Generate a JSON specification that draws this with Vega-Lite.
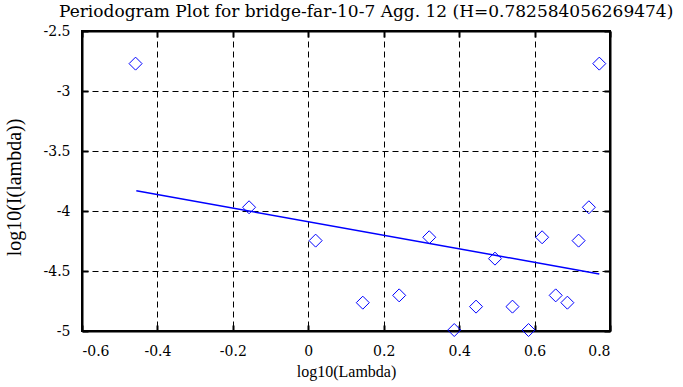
{
  "$schema": "https://vega.github.io/schema/vega-lite/v6.json",
  "autosize": "none",
  "width": 528,
  "height": 300,
  "padding": {"left": 82, "top": 31, "right": 73, "bottom": 56},
  "background": "white",
  "title": {
    "text": "Periodogram Plot for bridge-far-10-7 Agg. 12 (H=0.782584056269474)",
    "anchor": "start",
    "frame": "group",
    "dx": -23,
    "offset": -9.5,
    "baseline": "alphabetic",
    "font": "DejaVu Serif",
    "fontSize": 17,
    "fontWeight": "normal",
    "color": "black"
  },
  "config": {
    "font": "DejaVu Serif",
    "view": {"stroke": "black", "strokeWidth": 2},
    "axis": {
      "labelFont": "DejaVu Serif, serif",
      "labelFontSize": 14,
      "labelColor": "black",
      "titleFont": "Liberation Serif",
      "titleFontSize": 16,
      "titleFontWeight": "normal",
      "titleColor": "black",
      "domainColor": "black",
      "domainWidth": 2,
      "tickColor": "black",
      "tickWidth": 2,
      "tickSize": -6,
      "grid": true,
      "gridColor": "black",
      "gridDash": [6, 4],
      "gridOpacity": 1,
      "gridWidth": 1
    }
  },
  "resolve": {"axis": {"x": "independent", "y": "independent"}},
  "datasets": {
    "points": [
      {"logLambda": -0.458, "logI": -2.772},
      {"logLambda": -0.157, "logI": -3.969},
      {"logLambda": 0.0195, "logI": -4.247},
      {"logLambda": 0.1445, "logI": -4.764},
      {"logLambda": 0.241, "logI": -4.703},
      {"logLambda": 0.3207, "logI": -4.219},
      {"logLambda": 0.387, "logI": -4.992},
      {"logLambda": 0.4448, "logI": -4.797},
      {"logLambda": 0.495, "logI": -4.397},
      {"logLambda": 0.5414, "logI": -4.797},
      {"logLambda": 0.584, "logI": -4.992},
      {"logLambda": 0.62, "logI": -4.219},
      {"logLambda": 0.656, "logI": -4.703},
      {"logLambda": 0.687, "logI": -4.764},
      {"logLambda": 0.7167, "logI": -4.247},
      {"logLambda": 0.744, "logI": -3.969},
      {"logLambda": 0.7716, "logI": -2.772}
    ],
    "fit": [
      {"logLambda": -0.456, "logI": -3.831},
      {"logLambda": 0.7716, "logI": -4.525}
    ]
  },
  "layer": [
    {
      "data": {"name": "fit"},
      "mark": {"type": "line", "color": "#0000ff", "strokeWidth": 1.5},
      "encoding": {
        "x": {
          "field": "logLambda",
          "type": "quantitative",
          "scale": {"domain": [-0.6, 0.8], "nice": false, "zero": false},
          "axis": {
            "title": "log10(Lambda)",
            "values": [-0.6, -0.4, -0.2, 0, 0.2, 0.4, 0.6, 0.8],
            "labelExpr": "replace(format(datum.value, '~g'), '\u2212', '-')",
            "labelPadding": 19,
            "titlePadding": 5
          }
        },
        "y": {
          "field": "logI",
          "type": "quantitative",
          "scale": {"domain": [-5, -2.5], "nice": false, "zero": false},
          "axis": {
            "title": "log10(I(lambda))",
            "titleFontSize": 20,
            "titleY": 156,
            "values": [-5, -4.5, -4, -3.5, -3, -2.5],
            "labelExpr": "replace(format(datum.value, '~g'), '\u2212', '-')",
            "labelPadding": 18,
            "titlePadding": 19
          }
        }
      }
    },
    {
      "data": {"name": "points"},
      "mark": {"type": "point", "shape": "diamond", "size": 169, "filled": false, "color": "#0000ff", "strokeWidth": 1, "opacity": 1},
      "encoding": {
        "x": {
          "field": "logLambda",
          "type": "quantitative",
          "axis": {"orient": "top", "labels": false, "title": null, "grid": false, "values": [-0.6, -0.4, -0.2, 0, 0.2, 0.4, 0.6, 0.8]}
        },
        "y": {
          "field": "logI",
          "type": "quantitative",
          "axis": {"orient": "right", "labels": false, "title": null, "grid": false, "values": [-5, -4.5, -4, -3.5, -3, -2.5]}
        }
      }
    }
  ]
}
